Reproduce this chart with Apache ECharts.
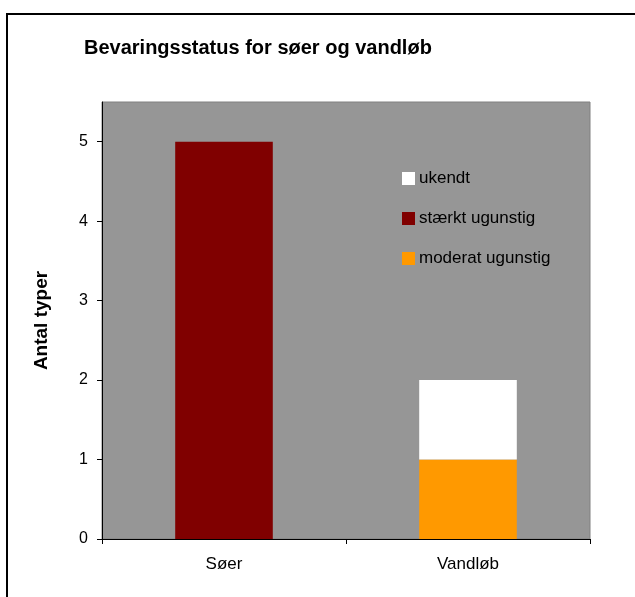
<html>
	<head>
		<meta charset="utf-8" />
		<title>Bevaringsstatus</title>
		<script src="https://cdn.jsdelivr.net/npm/echarts@6/dist/echarts.min.js"></script>
		<style>
			body {
				margin: 0;
				background: #ffffff;
			}
			#main {
				width: 635px;
				height: 597px;
			}
		</style>
	</head>

	<body>
		<div id="main"></div>
		<script type="text/javascript">
			// data
			var categories = ['Søer', 'Vandløb'];
			var moderat = [0, 1];
			var staerkt = [5, 0];
			var ukendt = [0, 1];
			var legendNames = ['ukendt', 'stærkt ugunstig', 'moderat ugunstig'];

			var font = 'Liberation Sans, Arial, sans-serif';
			var myChart = echarts.init(document.getElementById('main'));
			var option = {
				animation: false,
				backgroundColor: '#ffffff',
				title: {
					text: 'Bevaringsstatus for søer og vandløb',
					left: 79,
					top: 33,
					textStyle: {
						fontFamily: font,
						fontSize: 20,
						fontWeight: 'bold',
						color: '#000'
					}
				},
				graphic: [{
					type: 'rect',
					shape: { x: 7, y: 14, width: 700, height: 700 },
					style: { fill: 'none', stroke: '#000', lineWidth: 2 },
					silent: true
				}],
				legend: {
					data: legendNames,
					orient: 'vertical',
					left: 402,
					top: 170,
					padding: 0,
					itemWidth: 13,
					itemHeight: 13,
					itemGap: 23,
					icon: 'rect',
					textStyle: {
						fontFamily: font,
						fontSize: 17,
						lineHeight: 17,
						color: '#000',
						padding: [0, 0, 0, -1]
					}
				},
				grid: {
					left: 102,
					right: 45,
					top: 102,
					bottom: 58,
					show: true,
					backgroundColor: '#969696',
					borderColor: '#808080',
					borderWidth: 1
				},
				xAxis: {
					type: 'category',
					data: categories,
					axisLine: { lineStyle: { color: '#000', width: 1 } },
					axisTick: { show: true, length: 5, lineStyle: { color: '#000' } },
					axisLabel: {
						margin: 17,
						fontFamily: font,
						fontSize: 17,
						color: '#000'
					}
				},
				yAxis: {
					type: 'value',
					min: 0,
					max: 5.5,
					interval: 1,
					name: 'Antal typer',
					nameLocation: 'middle',
					nameGap: 51,
					nameTextStyle: {
						fontFamily: font,
						fontSize: 19,
						fontWeight: 'bold',
						color: '#000'
					},
					splitLine: { show: false },
					axisLine: { show: true, lineStyle: { color: '#000', width: 1 } },
					axisTick: { show: true, length: 5, lineStyle: { color: '#000' } },
					axisLabel: {
						margin: 14,
						fontFamily: font,
						fontSize: 16,
						color: '#000',
						showMaxLabel: false
					}
				},
				series: [{
						name: 'moderat ugunstig',
						type: 'bar',
						stack: 'total',
						barWidth: '40%',
						itemStyle: { color: '#ff9900' },
						data: moderat
					},
					{
						name: 'stærkt ugunstig',
						type: 'bar',
						stack: 'total',
						barWidth: '40%',
						itemStyle: { color: '#800000' },
						data: staerkt
					},
					{
						name: 'ukendt',
						type: 'bar',
						stack: 'total',
						barWidth: '40%',
						itemStyle: { color: '#ffffff' },
						data: ukendt
					}
				]
			};
			myChart.setOption(option);
		</script>
	</body>

</html>
